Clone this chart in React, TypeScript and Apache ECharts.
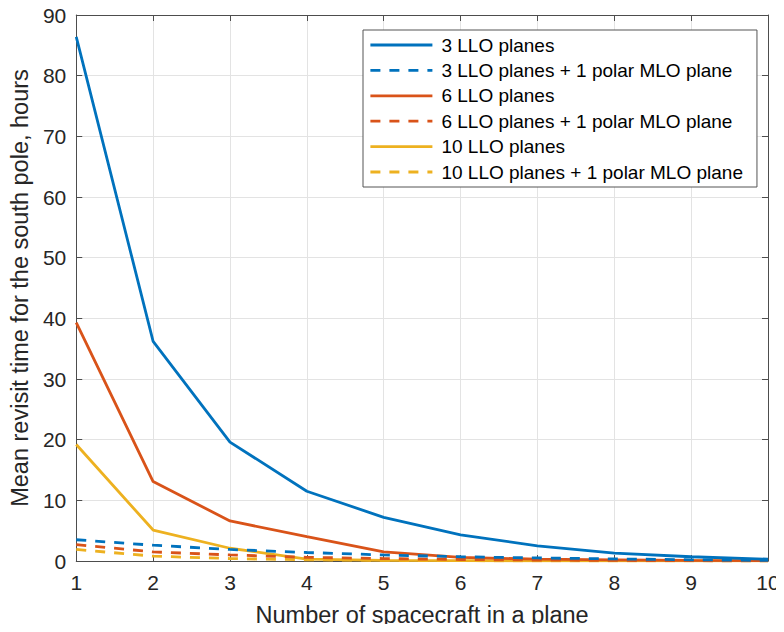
import React, { useEffect, useRef } from "react";
import * as echarts from "echarts";

const xValues = [1, 2, 3, 4, 5, 6, 7, 8, 9, 10];
const llo3 = [86.4, 36.2, 19.6, 11.5, 7.2, 4.3, 2.5, 1.3, 0.7, 0.3];
const llo3Polar = [3.5, 2.6, 1.9, 1.4, 1.0, 0.7, 0.5, 0.35, 0.2, 0.1];
const llo6 = [39.3, 13.1, 6.6, 4.0, 1.5, 0.6, 0.3, 0.2, 0.1, 0.05];
const llo6Polar = [2.7, 1.5, 1.0, 0.6, 0.4, 0.25, 0.15, 0.1, 0.05, 0.03];
const llo10 = [19.2, 5.1, 2.1, 0.3, 0.1, 0.05, 0.03, 0.02, 0.01, 0.01];
const llo10Polar = [1.9, 0.8, 0.4, 0.2, 0.1, 0.05, 0.03, 0.02, 0.01, 0.01];

const seriesNames = [
  "3 LLO planes",
  "3 LLO planes + 1 polar MLO plane",
  "6 LLO planes",
  "6 LLO planes + 1 polar MLO plane",
  "10 LLO planes",
  "10 LLO planes + 1 polar MLO plane",
];
const seriesData = [llo3, llo3Polar, llo6, llo6Polar, llo10, llo10Polar];
const colors = ["#0072BD", "#0072BD", "#D95319", "#D95319", "#EDB120", "#EDB120"];
const dashed = [false, true, false, true, false, true];

const FONT = "'Liberation Sans', Arial, sans-serif";
const AXIS_COLOR = "#4d4d4d";

export default function App() {
  const ref = useRef<HTMLDivElement>(null);
  useEffect(() => {
    if (!ref.current) return;
    const chart = echarts.init(ref.current, undefined, { renderer: "svg" });
    const hiddenAxisCommon = {
      type: "value" as const,
      axisLine: { show: true, onZero: false, lineStyle: { color: AXIS_COLOR, width: 1 } },
      axisTick: { show: true, inside: true, length: 6, lineStyle: { color: AXIS_COLOR } },
      axisLabel: { show: false },
      splitLine: { show: false },
    };
    chart.setOption({
      animation: false,
      backgroundColor: "#ffffff",
      textStyle: { fontFamily: FONT },
      grid: { left: 74, right: 16, top: 15, bottom: 68, containLabel: false },
      legend: {
        orient: "vertical",
        left: 363,
        top: 30,
        itemWidth: 62,
        itemHeight: 14,
        itemGap: 5.4,
        padding: [5, 14, 5, 6],
        borderColor: "#555555",
        borderWidth: 1,
        backgroundColor: "#ffffff",
        itemStyle: { opacity: 0 },
        lineStyle: { width: 2.8 },
        textStyle: { fontSize: 19, color: "#000000", fontFamily: FONT, lineHeight: 20, padding: [0, 0, 0, 4] },
        data: seriesNames.map((n) => ({ name: n })),
      },
      xAxis: [
        {
          type: "value",
          min: 1,
          max: 10,
          interval: 1,
          name: "Number of spacecraft in a plane",
          nameLocation: "middle",
          nameGap: 42,
          nameTextStyle: { fontSize: 23.5, color: "#262626", fontFamily: FONT },
          axisLine: { show: true, onZero: false, lineStyle: { color: AXIS_COLOR, width: 1 } },
          axisTick: { show: true, inside: true, length: 6, lineStyle: { color: AXIS_COLOR } },
          axisLabel: { fontSize: 21, color: "#262626", margin: 11, fontFamily: FONT },
          splitLine: { show: true, lineStyle: { color: "#e3e3e3", width: 1 } },
        },
        { ...hiddenAxisCommon, position: "top", min: 1, max: 10, interval: 1 },
      ],
      yAxis: [
        {
          type: "value",
          min: 0,
          max: 90,
          interval: 10,
          name: "Mean revisit time for the south pole, hours",
          nameLocation: "middle",
          nameGap: 38,
          nameTextStyle: { fontSize: 23.5, color: "#262626", fontFamily: FONT },
          axisLine: { show: true, onZero: false, lineStyle: { color: AXIS_COLOR, width: 1 } },
          axisTick: { show: true, inside: true, length: 6, lineStyle: { color: AXIS_COLOR } },
          axisLabel: { fontSize: 21, color: "#262626", margin: 10, fontFamily: FONT },
          splitLine: { show: true, lineStyle: { color: "#e3e3e3", width: 1 } },
        },
        { ...hiddenAxisCommon, position: "right", min: 0, max: 90, interval: 10 },
      ],
      series: seriesNames.map((name, i) => ({
        name,
        type: "line",
        data: xValues.map((x, j) => [x, seriesData[i][j]]),
        showSymbol: false,
        symbol: "none",
        color: colors[i],
        lineStyle: {
          color: colors[i],
          width: 2.8,
          type: dashed[i] ? [10, 9] : "solid",
        },
        xAxisIndex: 0,
        yAxisIndex: 0,
        z: 10 - i,
      })),
    });
    return () => chart.dispose();
  }, []);
  return <div ref={ref} style={{ width: 784, height: 632, margin: -8 }} />;
}
